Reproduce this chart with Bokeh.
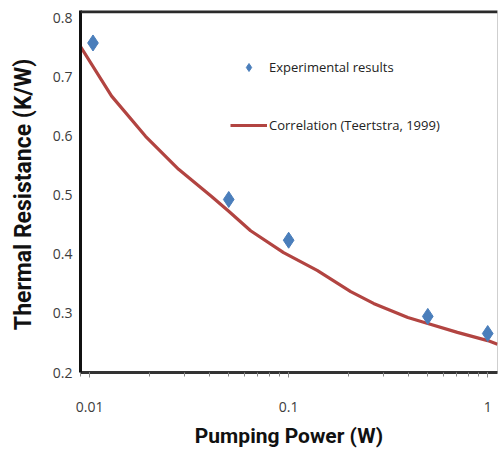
from bokeh.plotting import figure
from bokeh.models import (FixedTicker, LogTicker, CustomJSTickFormatter, Legend, LegendItem,
                          Range1d, Span)
from bokeh.embed import file_html
from bokeh.resources import INLINE

# Experimental data
exp_power = [0.0104, 0.05, 0.1, 0.5, 1.0]
exp_resistance = [0.758, 0.493, 0.424, 0.295, 0.266]

# Correlation curve (Teertstra, 1999)
corr_power = [0.009, 0.0129, 0.0191, 0.028, 0.041, 0.05, 0.0644, 0.0943, 0.139,
              0.205, 0.267, 0.397, 0.5, 0.704, 1.0, 1.12]
corr_resistance = [0.752, 0.668, 0.600, 0.544, 0.498, 0.473, 0.440, 0.403, 0.373,
                   0.337, 0.317, 0.293, 0.283, 0.268, 0.254, 0.248]

y_ticks = [0.2, 0.3, 0.4, 0.5, 0.6, 0.7, 0.8]
y_min, y_max = 0.2, 0.813

p = figure(width=499, height=459, x_axis_type="log",
           x_range=Range1d(0.009, 1.12), y_range=Range1d(y_min, y_max),
           output_backend="svg", toolbar_location=None,
           min_border_left=80, min_border_right=2, min_border_top=10, min_border_bottom=87)
p.background_fill_color = "white"
p.border_fill_color = "white"
p.outline_line_color = "#cfcfcf"
p.outline_line_width = 1
p.xgrid.visible = False
p.ygrid.visible = False

# dark top edge of the plot area, just inside the frame
p.add_layout(Span(location=y_max - 0.002, dimension="width", line_color="#2a2a2a",
                  line_width=3, level="overlay"))

line_r = p.line(corr_power, corr_resistance, line_color="#B24441", line_width=3.2)
pts_r = p.scatter(exp_power, exp_resistance, marker="diamond", size=16,
                  fill_color="#4A7EBB", line_color="#4A7EBB")

tick_font = "Open Sans"
label_color = "#3c3c3c"
title_font = "Roboto"

# x axis
xa = p.xaxis[0]
xa.ticker = LogTicker(num_minor_ticks=10)
xa.formatter = CustomJSTickFormatter(code="return tick.toString();")
xa.axis_line_color = "#333333"
xa.axis_line_width = 3
xa.major_tick_in = 0
xa.major_tick_out = 5
xa.minor_tick_in = 0
xa.minor_tick_out = 4
xa.major_tick_line_color = "#888888"
xa.minor_tick_line_color = "#888888"
xa.major_tick_line_width = 1
xa.minor_tick_line_width = 1
xa.major_label_text_font = tick_font
xa.major_label_text_font_size = "14px"
xa.major_label_text_color = label_color
xa.major_label_standoff = 24
xa.axis_label = "Pumping Power (W)"
xa.axis_label_text_font = title_font
xa.axis_label_text_font_style = "bold"
xa.axis_label_text_font_size = "21px"
xa.axis_label_text_color = "#111111"
xa.axis_label_standoff = 9

# y axis
ya = p.yaxis[0]
ya.ticker = FixedTicker(ticks=y_ticks)
ya.axis_line_color = "#111111"
ya.axis_line_width = 3
ya.major_tick_in = 0
ya.major_tick_out = 0
ya.minor_tick_out = 0
ya.minor_tick_in = 0
ya.major_label_text_font = tick_font
ya.major_label_text_font_size = "14px"
ya.major_label_text_color = label_color
ya.major_label_standoff = 8
ya.axis_label = "Thermal Resistance  (K/W)"
ya.axis_label_text_font = title_font
ya.axis_label_text_font_style = "bold"
ya.axis_label_text_font_size = "23px"
ya.axis_label_text_color = "#111111"
ya.axis_label_standoff = 13

legend = Legend(items=[LegendItem(label="Experimental results", renderers=[pts_r]),
                       LegendItem(label="Correlation (Teertstra, 1999)", renderers=[line_r])],
                location=(150, 237), orientation="vertical",
                glyph_width=37, glyph_height=20, label_height=20, spacing=38,
                label_standoff=2, padding=0, margin=0,
                border_line_color=None, background_fill_alpha=0,
                label_text_font="Open Sans", label_text_font_size="13px",
                label_text_color="#222222")
p.add_layout(legend, "center")

open("out.html", "w").write(file_html(p, INLINE))
